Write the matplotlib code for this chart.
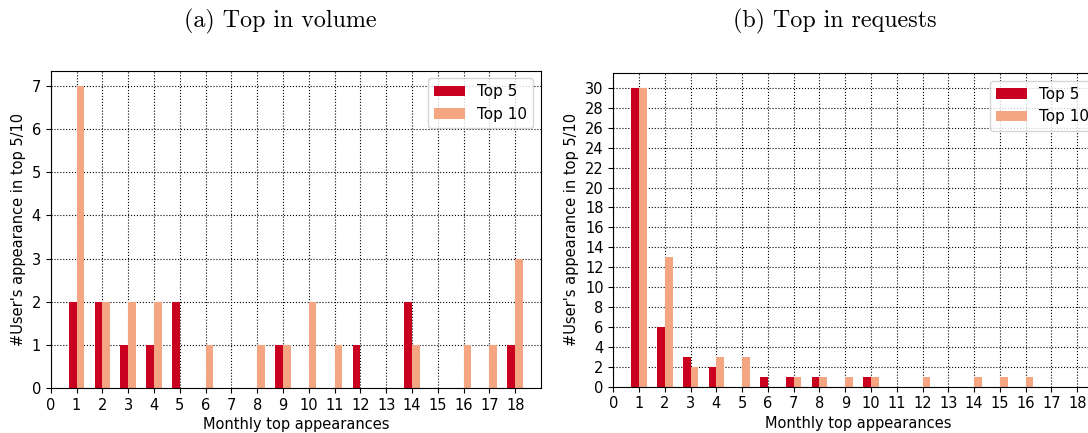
import matplotlib
matplotlib.use("Agg")
import matplotlib.pyplot as plt
import numpy as np

months = list(range(1, 19))
vol_top5 = [2, 2, 1, 1, 2, 0, 0, 0, 1, 0, 0, 1, 0, 2, 0, 0, 0, 1]
vol_top10 = [7, 2, 2, 2, 0, 1, 0, 1, 1, 2, 1, 0, 0, 1, 0, 1, 1, 3]
req_top5 = [30, 6, 3, 2, 0, 1, 1, 1, 0, 1, 0, 0, 0, 0, 0, 0, 0, 0]
req_top10 = [30, 13, 2, 3, 3, 0, 1, 1, 1, 1, 0, 1, 0, 1, 1, 1, 0, 0]
xticks = list(range(0, 19))
titles = ["(a) Top in volume", "(b) Top in requests"]
c5 = "#ca0020"
c10 = "#f4a582"

fs = 10.5
W, H = 1088, 433
fig = plt.figure(figsize=(W / 100, H / 100), dpi=100)

def make_ax(rect_px, t5, t10, yticks):
    l, t, r, b = rect_px
    ax = fig.add_axes([l / W, 1 - b / H, (r - l) / W, (b - t) / H])
    x = np.array(months)
    w = 0.3
    ax.bar(x - w, t5, width=w, align="edge", color=c5, label="Top 5", zorder=2)
    ax.bar(x, t10, width=w, align="edge", color=c10, label="Top 10", zorder=2)
    ax.set_xlim(0, 19)
    ax.set_xticks(xticks)
    ax.set_yticks(yticks)
    ax.tick_params(labelsize=fs)
    ax.grid(True, linestyle=":", color="black", linewidth=0.8, zorder=0)
    ax.set_axisbelow(True)
    ax.set_xlabel("Monthly top appearances", fontsize=fs, labelpad=3)
    ax.set_ylabel("#User's appearance in top 5/10", fontsize=fs)
    ax.legend(loc="upper right", fontsize=11)
    return ax

ax1 = make_ax((50.7, 70.7, 541, 388.3), vol_top5, vol_top10, range(0, 8))
ax1.set_ylim(0, 7.35)
ax2 = make_ax((613.3, 73, 1103, 386.7), req_top5, req_top10, range(0, 31, 2))
ax2.set_ylim(0, 31.5)

fig.text(280 / W, 1 - 21 / H, titles[0], family="cmr10", fontsize=17.3, ha="center", va="center")
fig.text(835 / W, 1 - 21 / H, titles[1], family="cmr10", fontsize=17.3, ha="center", va="center")

fig.savefig("out.png", dpi=100)
